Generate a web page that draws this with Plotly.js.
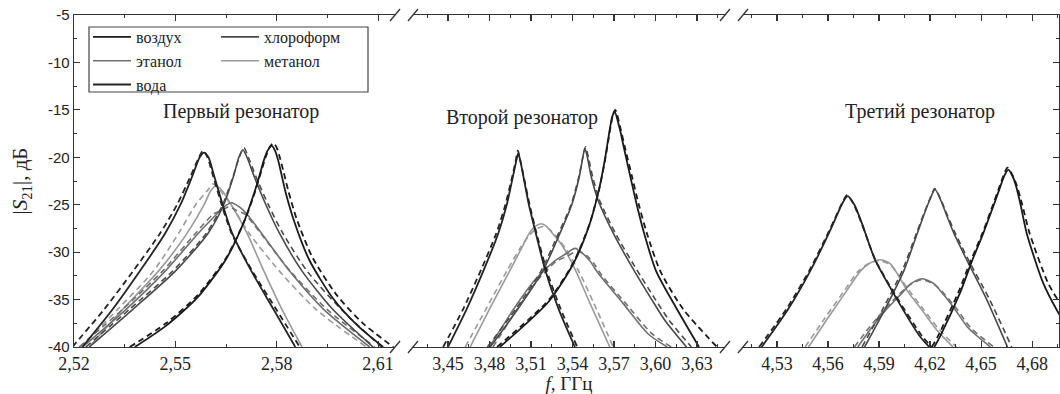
<!DOCTYPE html>
<html><head><meta charset="utf-8">
<script src="https://cdn.plot.ly/plotly-3.0.1.min.js"></script>
<style>html,body{margin:0;padding:0;background:#fff}#chart{width:1060px;height:394px}</style>
</head><body><div id="chart"></div>
<script>
// ---------- categories ----------
const media = ['воздух', 'хлороформ', 'этанол', 'метанол', 'вода'];
const panelTitles = ['Первый резонатор', 'Второй резонатор', 'Третий резонатор'];

// ---------- tick labels ----------
const yTickVals = [-5, -10, -15, -20, -25, -30, -35, -40];
const yTickText = ['-5', '-10', '-15', '-20', '-25', '-30', '-35', '-40'];
const x1TickVals = [2.52, 2.55, 2.58, 2.61];
const x1TickText = ['2,52', '2,55', '2,58', '2,61'];
const x2TickVals = [3.45, 3.48, 3.51, 3.54, 3.57, 3.60, 3.63];
const x2TickText = ['3,45', '3,48', '3,51', '3,54', '3,57', '3,60', '3,63'];
const x3TickVals = [4.53, 4.56, 4.59, 4.62, 4.65, 4.68];
const x3TickText = ['4,53', '4,56', '4,59', '4,62', '4,65', '4,68'];

// ---------- Panel 1 (first resonator) ----------
const p1AirF   = [2.5380, 2.5471, 2.5565, 2.5649, 2.5703, 2.5733, 2.5750, 2.5762, 2.5773, 2.5785, 2.5795, 2.5804, 2.5814, 2.5827, 2.5852, 2.5896, 2.5965, 2.6041, 2.6115];
const p1AirV   = [-40, -37.8, -34.8, -30.8, -26.8, -23.8, -21.8, -20.3, -19.3, -18.8, -19.3, -20.3, -21.8, -23.8, -26.8, -30.8, -34.8, -37.8, -40];
const p1AirDF  = [2.5365, 2.5472, 2.5567, 2.5652, 2.5707, 2.5737, 2.5754, 2.5767, 2.5778, 2.5790, 2.5800, 2.5809, 2.5820, 2.5834, 2.5859, 2.5905, 2.5977, 2.6055, 2.6145];
const p1AirDV  = [-40, -37.5, -34.5, -30.5, -26.5, -23.5, -21.5, -20.0, -19.0, -18.5, -19.0, -20.0, -21.5, -23.5, -26.5, -30.5, -34.5, -37.5, -40];
const p1ChlF   = [2.5245, 2.5375, 2.5500, 2.5597, 2.5643, 2.5672, 2.5688, 2.5700, 2.5712, 2.5733, 2.5768, 2.5808, 2.5875, 2.5965, 2.6085];
const p1ChlV   = [-40, -36, -32, -28, -25, -22, -20, -19.2, -20, -22, -25, -28, -32, -36, -40];
const p1ChlDF  = [2.5235, 2.5365, 2.5492, 2.5592, 2.5640, 2.5671, 2.5689, 2.5703, 2.5716, 2.5738, 2.5775, 2.5818, 2.5890, 2.5990, 2.6110];
const p1ChlDV  = [-40, -36, -32, -28, -25, -22, -20, -19.0, -20, -22, -25, -28, -32, -36, -40];
const p1EthF   = [2.5225, 2.5355, 2.5470, 2.5568, 2.5622, 2.5645, 2.5665, 2.5688, 2.5712, 2.5755, 2.5838, 2.5938, 2.6075];
const p1EthV   = [-40, -36, -32, -28, -26, -25.2, -24.8, -25.2, -26, -28, -32, -36, -40];
const p1EthDF  = [2.5215, 2.5345, 2.5462, 2.5560, 2.5612, 2.5638, 2.5658, 2.5680, 2.5706, 2.5752, 2.5840, 2.5948, 2.6090];
const p1EthDV  = [-40, -36, -32, -28, -26, -25.6, -25.2, -25.6, -26, -28, -32, -36, -40];
const p1MetF   = [2.5245, 2.5345, 2.5450, 2.5535, 2.5585, 2.5605, 2.5620, 2.5638, 2.5665, 2.5712, 2.5762, 2.5815, 2.5875];
const p1MetV   = [-40, -36, -32, -28, -25, -23.5, -23.0, -23.5, -25, -28, -32, -36, -40];
const p1MetDF  = [2.5220, 2.5330, 2.5435, 2.5510, 2.5560, 2.5595, 2.5612, 2.5632, 2.5665, 2.5718, 2.5808, 2.5915, 2.6065];
const p1MetDV  = [-40, -36, -32, -28, -25, -23.5, -22.8, -23.5, -25, -28, -32, -36, -40];
const p1WatF   = [2.5225, 2.5315, 2.5395, 2.5470, 2.5515, 2.5550, 2.5572, 2.5585, 2.5598, 2.5615, 2.5640, 2.5668, 2.5725, 2.5790, 2.5855];
const p1WatV   = [-40, -36, -32, -28, -25, -22, -20, -19.5, -20, -22, -25, -28, -32, -36, -40];
const p1WatDF  = [2.5195, 2.5290, 2.5375, 2.5455, 2.5505, 2.5545, 2.5570, 2.5582, 2.5595, 2.5612, 2.5637, 2.5666, 2.5728, 2.5798, 2.5868];
const p1WatDV  = [-40, -36, -32, -28, -25, -22, -20, -19.3, -20, -22, -25, -28, -32, -36, -40];

// ---------- Panel 2 (second resonator) ----------
const p2AirF   = [3.4875, 3.5229, 3.5407, 3.5521, 3.5595, 3.5635, 3.5657, 3.5674, 3.5688, 3.5705, 3.5742, 3.5772, 3.5818, 3.5865, 3.5918, 3.6005, 3.6155, 3.6315];
const p2AirV   = [-40, -35.2, -31.2, -27.2, -23.2, -20.2, -18.2, -16.7, -15.7, -15.2, -17, -19, -22, -25, -28, -32, -36, -40];
const p2AirDF  = [3.4855, 3.5231, 3.5410, 3.5524, 3.5599, 3.5639, 3.5662, 3.5679, 3.5693, 3.5710, 3.5748, 3.5780, 3.5830, 3.5880, 3.5938, 3.6035, 3.6200, 3.6445];
const p2AirDV  = [-40, -35, -31, -27, -23, -20, -18, -16.5, -15.5, -15.0, -17, -19, -22, -25, -28, -32, -36, -40];
const p2ChlF   = [3.4805, 3.5005, 3.5185, 3.5310, 3.5395, 3.5450, 3.5475, 3.5490, 3.5508, 3.5535, 3.5585, 3.5695, 3.5828, 3.5973, 3.6069, 3.6225];
const p2ChlV   = [-40, -36, -32, -28, -25, -22, -20, -19.05, -20, -22, -24.5, -28, -31.5, -35, -37.2, -40];
const p2ChlDF  = [3.4785, 3.4990, 3.5172, 3.5300, 3.5390, 3.5447, 3.5475, 3.5495, 3.5515, 3.5545, 3.5595, 3.5710, 3.5850, 3.6000, 3.6100, 3.6260];
const p2ChlDV  = [-40, -36, -32, -28, -25, -22, -20, -18.9, -20, -22, -24.5, -28, -31.5, -35, -37.2, -40];
const p2EthF   = [3.4800, 3.4975, 3.5125, 3.5265, 3.5350, 3.5418, 3.5480, 3.5530, 3.5585, 3.5766, 3.5946, 3.6085];
const p2EthV   = [-40, -36, -33, -31, -30.2, -29.6, -30.2, -31, -32.2, -35.4, -38.6, -40];
const p2EthDF  = [3.4825, 3.5000, 3.5145, 3.5280, 3.5365, 3.5435, 3.5505, 3.5555, 3.5610, 3.5785, 3.5975, 3.6115];
const p2EthDV  = [-40, -36, -33, -31, -30.4, -29.9, -30.4, -31.2, -32.4, -35.4, -38.6, -40];
const p2MetF   = [3.4660, 3.4800, 3.4945, 3.5035, 3.5088, 3.5128, 3.5175, 3.5215, 3.5255, 3.5330, 3.5425, 3.5527, 3.5670];
const p2MetV   = [-40, -36, -32, -29.5, -28, -27.3, -27.0, -27.3, -28, -29.4, -32, -35.4, -40];
const p2MetDF  = [3.4625, 3.4775, 3.4925, 3.5025, 3.5090, 3.5135, 3.5185, 3.5235, 3.5275, 3.5350, 3.5445, 3.5555, 3.5695];
const p2MetDV  = [-40, -36, -32, -29.5, -28.2, -27.6, -27.3, -27.6, -28.2, -29.6, -32, -35.4, -40];
const p2WatF   = [3.4500, 3.4635, 3.4755, 3.4864, 3.4925, 3.4970, 3.4992, 3.5008, 3.5025, 3.5045, 3.5085, 3.5135, 3.5205, 3.5300, 3.5418];
const p2WatV   = [-40, -36, -32, -28, -25, -22, -20.5, -19.6, -20.5, -22, -25, -28, -32, -36, -40];
const p2WatDF  = [3.4465, 3.4610, 3.4735, 3.4850, 3.4915, 3.4965, 3.4988, 3.5005, 3.5025, 3.5047, 3.5090, 3.5140, 3.5215, 3.5315, 3.5435];
const p2WatDV  = [-40, -36, -32, -28, -25, -22, -20.5, -19.3, -20.5, -22, -25, -28, -32, -36, -40];

// ---------- Panel 3 (third resonator) ----------
const p3AirF   = [4.6225, 4.6258, 4.6376, 4.6445, 4.6513, 4.6575, 4.6615, 4.6635, 4.6660, 4.6685, 4.6705, 4.6732, 4.6768, 4.6866, 4.6945, 4.7080];
const p3AirV   = [-40, -38.9, -34.3, -31, -28, -25, -23, -22, -21.3, -22, -23, -25, -28, -33.3, -36.1, -40];
const p3AirDF  = [4.6210, 4.6245, 4.6365, 4.6437, 4.6508, 4.6570, 4.6610, 4.6630, 4.6655, 4.6688, 4.6710, 4.6742, 4.6785, 4.6895, 4.6990, 4.7140];
const p3AirDV  = [-40, -38.9, -34.3, -31, -28, -25, -23, -22, -21.1, -22, -23, -25, -28, -33.3, -36.1, -40];
const p3ChlF   = [4.5815, 4.5935, 4.6045, 4.6125, 4.6165, 4.6198, 4.6229, 4.6262, 4.6295, 4.6340, 4.6415, 4.6533, 4.6655];
const p3ChlV   = [-40, -36, -32, -28, -26, -24.5, -23.4, -24.5, -26, -28, -30.8, -35, -40];
const p3ChlDF  = [4.5800, 4.5922, 4.6035, 4.6120, 4.6162, 4.6196, 4.6228, 4.6264, 4.6299, 4.6348, 4.6425, 4.6550, 4.6680];
const p3ChlDV  = [-40, -36, -32, -28, -26, -24.5, -23.3, -24.5, -26, -28, -30.8, -35, -40];
const p3EthF   = [4.5775, 4.5855, 4.5945, 4.6025, 4.6090, 4.6155, 4.6220, 4.6280, 4.6345, 4.6425, 4.6555];
const p3EthV   = [-40, -38, -36, -34.5, -33.3, -32.8, -33.3, -34.5, -36, -38, -40];
const p3EthDF  = [4.5755, 4.5840, 4.5935, 4.6015, 4.6085, 4.6152, 4.6225, 4.6288, 4.6358, 4.6440, 4.6575];
const p3EthDV  = [-40, -38, -36, -34.5, -33.4, -32.9, -33.4, -34.5, -36, -38, -40];
const p3MetF   = [4.5485, 4.5597, 4.5712, 4.5790, 4.5842, 4.5906, 4.5965, 4.6015, 4.6063, 4.6148, 4.6239, 4.6335];
const p3MetV   = [-40, -37, -34, -32, -31.2, -30.8, -31.2, -32.5, -34, -36, -38.2, -40];
const p3MetDF  = [4.5465, 4.5580, 4.5698, 4.5778, 4.5830, 4.5898, 4.5965, 4.6020, 4.6075, 4.6160, 4.6255, 4.6355];
const p3MetDV  = [-40, -37, -34, -32, -31.3, -30.9, -31.3, -32.6, -34, -36, -38.2, -40];
const p3WatF   = [4.5210, 4.5366, 4.5495, 4.5605, 4.5655, 4.5680, 4.5715, 4.5755, 4.5800, 4.5876, 4.5990, 4.6141, 4.6195];
const p3WatV   = [-40, -36, -32, -28, -26, -25, -24.1, -25, -27, -30.8, -34.5, -38.9, -40];
const p3WatDF  = [4.5195, 4.5355, 4.5488, 4.5600, 4.5652, 4.5678, 4.5712, 4.5752, 4.5798, 4.5878, 4.5995, 4.6155, 4.6210];
const p3WatDV  = [-40, -36, -32, -28, -26, -25, -24.0, -25, -27, -30.8, -34.5, -38.9, -40];

// ---------- styles ----------
const mediaColors = ['#1a1a1a', '#4a4a4a', '#707070', '#9a9a9a', '#242424'];
const mediaWidths = [1.8, 1.6, 1.6, 1.6, 1.8];
const legendOf = ['legend', 'legend2', 'legend', 'legend2', 'legend'];

// table built from the arrays above: [panel, medium index, dashed, f, v]
const curves = [
  [1, 3, false, p1MetF, p1MetV], [1, 3, true, p1MetDF, p1MetDV],
  [1, 2, false, p1EthF, p1EthV], [1, 2, true, p1EthDF, p1EthDV],
  [1, 1, false, p1ChlF, p1ChlV], [1, 1, true, p1ChlDF, p1ChlDV],
  [1, 0, false, p1AirF, p1AirV], [1, 0, true, p1AirDF, p1AirDV],
  [1, 4, false, p1WatF, p1WatV], [1, 4, true, p1WatDF, p1WatDV],
  [2, 3, false, p2MetF, p2MetV], [2, 3, true, p2MetDF, p2MetDV],
  [2, 2, false, p2EthF, p2EthV], [2, 2, true, p2EthDF, p2EthDV],
  [2, 1, false, p2ChlF, p2ChlV], [2, 1, true, p2ChlDF, p2ChlDV],
  [2, 0, false, p2AirF, p2AirV], [2, 0, true, p2AirDF, p2AirDV],
  [2, 4, false, p2WatF, p2WatV], [2, 4, true, p2WatDF, p2WatDV],
  [3, 3, false, p3MetF, p3MetV], [3, 3, true, p3MetDF, p3MetDV],
  [3, 2, false, p3EthF, p3EthV], [3, 2, true, p3EthDF, p3EthDV],
  [3, 1, false, p3ChlF, p3ChlV], [3, 1, true, p3ChlDF, p3ChlDV],
  [3, 0, false, p3AirF, p3AirV], [3, 0, true, p3AirDF, p3AirDV],
  [3, 4, false, p3WatF, p3WatV], [3, 4, true, p3WatDF, p3WatDV]
];

const legendOrder = [0, 2, 4, 1, 3];
const traces = curves.map(([panel, m, dashed, f, v]) => {
  const sfx = panel === 1 ? '' : String(panel);
  const show = panel === 1 && !dashed;
  return {
    type: 'scatter', mode: 'lines', x: f, y: v,
    xaxis: 'x' + sfx, yaxis: 'y' + sfx,
    name: media[m], legendgroup: media[m],
    showlegend: show, legend: legendOf[m], legendrank: legendOrder.indexOf(m) + 1,
    line: { color: mediaColors[m], width: mediaWidths[m], dash: dashed ? '6px,4px' : 'solid', shape: 'spline', smoothing: 0.7 },
    hoverinfo: 'skip'
  };
});

// ---------- layout helpers (pixel -> paper) ----------
const L = 74, PW = 986, B = 347, PH = 332;
const px = p => (p - L) / PW;
const py = p => (B - p) / PH;

const serif = 'Liberation Serif, DejaVu Serif, Noto Serif, serif';
const sans = 'Liberation Sans, Arial, sans-serif';
const axisCommon = {
  showline: true, linecolor: '#333', linewidth: 1.3, mirror: 'ticks',
  ticks: 'inside', ticklen: 6, tickwidth: 1.2, tickcolor: '#333',
  showgrid: false, zeroline: false, fixedrange: true,
  tickfont: { family: serif, size: 18, color: '#222' }
};
const minorX = { ticks: 'inside', ticklen: 3, tickwidth: 1, tickcolor: '#333', dtick: 0.015 };

const breakShapes = [];
[395, 413, 725, 743].forEach(cx => {
  [347, 15].forEach(cy => {
    breakShapes.push({ type: 'line', xref: 'paper', yref: 'paper',
      x0: px(cx - 5), y0: py(cy + 6), x1: px(cx + 5), y1: py(cy - 6),
      line: { color: '#333', width: 1.3 } });
  });
});

const legendCommon = { xanchor: 'left', yanchor: 'top', bgcolor: 'rgba(0,0,0,0)', borderwidth: 0,
  font: { family: serif, size: 16, color: '#222' }, itemwidth: 38, tracegroupgap: 0,
  itemclick: false, itemdoubleclick: false };

const annFont = { family: serif, size: 20, color: '#222' };

const layout = {
  width: 1060, height: 394,
  margin: { l: L, r: 0, t: 15, b: 47 },
  paper_bgcolor: '#fff', plot_bgcolor: '#fff',
  font: { family: serif, color: '#222' },
  showlegend: true,
  xaxis: Object.assign({}, axisCommon, { domain: [0, px(395)], range: [2.52, 2.615], anchor: 'y',
    tickvals: x1TickVals, ticktext: x1TickText, minor: Object.assign({ tick0: 2.52 }, minorX) }),
  xaxis2: Object.assign({}, axisCommon, { domain: [px(413), px(725)], range: [3.4247, 3.6503], anchor: 'y2',
    tickvals: x2TickVals, ticktext: x2TickText, minor: Object.assign({ tick0: 3.45 }, minorX),
    title: { text: '<i>f</i>, ГГц', font: { family: serif, size: 19, color: '#222' }, standoff: 6 } }),
  xaxis3: Object.assign({}, axisCommon, { domain: [px(743), px(1059)], range: [4.51, 4.6958], anchor: 'y3',
    tickvals: x3TickVals, ticktext: x3TickText, minor: Object.assign({ tick0: 4.53 }, minorX) }),
  yaxis: { domain: [0, 1], range: [-40, -5], anchor: 'x', showline: true, linecolor: '#333', linewidth: 1.3,
    ticks: 'inside', ticklen: 6, tickwidth: 1.2, tickcolor: '#333', showgrid: false, zeroline: false, fixedrange: true,
    tickvals: yTickVals, ticktext: yTickText,
    minor: { ticks: 'inside', ticklen: 3, tickwidth: 1, tickcolor: '#333', dtick: 2.5, tick0: -40 },
    tickfont: { family: sans, size: 15, color: '#222' },
    title: { text: '|<i>S</i><sub>21</sub>|, дБ', font: { family: serif, size: 21, color: '#222' }, standoff: 14 } },
  yaxis2: { domain: [0, 1], range: [-40, -5], anchor: 'x2', visible: false, fixedrange: true },
  yaxis3: { domain: [0, 1], range: [-40, -5], anchor: 'x3', side: 'right', showline: true, linecolor: '#333', linewidth: 1.3,
    ticks: 'inside', ticklen: 6, tickwidth: 1.2, tickcolor: '#333', showticklabels: false,
    showgrid: false, zeroline: false, fixedrange: true, tickvals: yTickVals,
    minor: { ticks: 'inside', ticklen: 3, tickwidth: 1, tickcolor: '#333', dtick: 2.5, tick0: -40 } },
  legend: Object.assign({ x: px(88), y: py(20) }, legendCommon),
  legend2: Object.assign({ x: px(216), y: py(20) }, legendCommon),
  shapes: [
    { type: 'rect', xref: 'paper', yref: 'paper', x0: px(89), x1: px(368), y0: py(92), y1: py(27),
      line: { color: '#444', width: 1.2 }, fillcolor: 'rgba(0,0,0,0)' }
  ].concat(breakShapes),
  annotations: [
    { text: panelTitles[0], xref: 'paper', yref: 'paper', x: px(241), y: py(112), xanchor: 'center', yanchor: 'middle',
      showarrow: false, font: annFont },
    { text: panelTitles[1], xref: 'paper', yref: 'paper', x: px(522), y: py(117), xanchor: 'center', yanchor: 'middle',
      showarrow: false, font: annFont },
    { text: panelTitles[2], xref: 'paper', yref: 'paper', x: px(920), y: py(112), xanchor: 'center', yanchor: 'middle',
      showarrow: false, font: annFont }
  ]
};

Plotly.newPlot('chart', traces, layout, { displayModeBar: false, staticPlot: true });
</script></body></html>
